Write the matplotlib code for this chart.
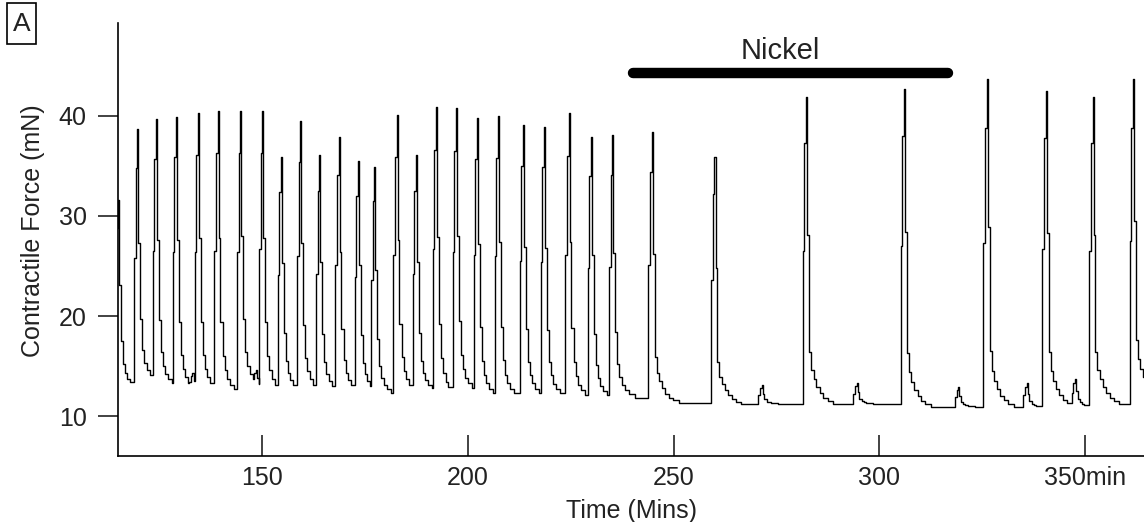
import numpy as np
import matplotlib
matplotlib.use('Agg')
import matplotlib.pyplot as plt
from matplotlib.patches import Rectangle

plt.rcParams['font.family'] = ['Liberation Sans', 'DejaVu Sans']

# contraction peaks (time in min, force in mN)
spike_times = [115.0, 119.7, 124.2, 129.1, 134.4, 139.2, 144.7, 150.1, 154.6, 159.3,
               163.9, 168.6, 173.3, 177.3, 182.7, 187.4, 192.3, 197.1, 202.2, 207.3,
               213.4, 218.5, 224.5, 229.9, 235.1, 244.7, 259.9, 282.2, 306.0, 326.1,
               340.4, 351.8, 361.6]
spike_peaks = [31.6, 38.7, 39.7, 39.9, 40.3, 40.5, 40.5, 40.5, 35.9, 39.5,
               36.1, 37.9, 35.5, 34.9, 40.1, 36.1, 40.9, 40.8, 39.8, 40.0,
               39.1, 38.9, 40.3, 37.9, 38.1, 38.4, 35.9, 41.9, 42.7, 43.7,
               42.5, 41.9, 43.7]
# resting level the trace settles to after each contraction
rest_levels = [12.8, 13.3, 12.9, 12.5, 12.5, 12.3, 12.8, 12.3, 12.4, 12.3,
               12.3, 12.3, 12.3, 12.0, 12.3, 12.4, 12.0, 12.4, 11.9, 11.9,
               11.9, 11.9, 11.7, 11.7, 11.8, 11.3, 11.2, 11.2, 10.9, 10.9,
               11.0, 11.2, 12.2]

# small twitches between contractions
bump_times = [133.1, 148.5, 271.4, 294.5, 319.2, 335.8, 347.5]
bump_peaks = [14.3, 14.6, 13.1, 13.3, 12.9, 13.3, 13.7]

# shape of one contraction read from typical peaks (min from peak, fraction of amplitude)
fast_offsets = [-0.8, -0.4, 0.0, 0.25, 0.65, 1.2, 1.7, 2.3, 3.0, 4.0, 5.5]
fast_fracs = [0.5, 0.85, 1.0, 0.55, 0.25, 0.13, 0.08, 0.05, 0.03, 0.015, 0.0]
# later contractions recover more slowly
slow_offsets = [-0.8, -0.4, 0.0, 0.3, 0.7, 1.2, 1.8, 2.5, 3.3, 4.2, 5.2, 6.5]
slow_fracs = [0.5, 0.85, 1.0, 0.55, 0.17, 0.11, 0.08, 0.055, 0.035, 0.02, 0.01, 0.0]
slow_from = 244.0

nickel_start = 240.2
nickel_end = 316.7

xticks = [150, 200, 250, 300, 350]
xtick_labels = ['150', '200', '250', '300', '350min']
yticks = [10, 20, 30, 40]


def build_trace():
  events = []
  for i, (t0, p) in enumerate(zip(spike_times, spike_peaks)):
    r0 = rest_levels[i - 1] if i > 0 else rest_levels[0]
    events.append((t0, p, r0, rest_levels[i], t0 >= slow_from))
  for t0, p in zip(bump_times, bump_peaks):
    k = np.searchsorted(spike_times, t0) - 1
    events.append((t0, p, rest_levels[k], rest_levels[k], False))
  events.sort()

  ts, vs = [], []
  for j, (t0, p, r0, r1, slow) in enumerate(events):
    offs, fracs = (slow_offsets, slow_fracs) if slow else (fast_offsets, fast_fracs)
    stop = events[j + 1][0] - 0.8 if j + 1 < len(events) else 370
    for off, fr in zip(offs, fracs):
      tt = t0 + off
      if tt >= stop:
        break
      base = r0 if off < 0 else r1
      ts.append(tt)
      vs.append(base + (p - base) * fr)
  return np.array(ts), np.array(vs)


t, v = build_trace()

fig = plt.figure(figsize=(11.44, 5.22), dpi=100)
ax = fig.add_axes([118 / 1144, 66 / 522, 1 - 118 / 1144, 433 / 522])
ax.plot(t, v, color='black', lw=1.0, drawstyle='steps-post')

ax.set_xlim(115.0, 364.3)
ax.set_ylim(6.0, 49.3)
for s in ['top', 'right']:
  ax.spines[s].set_visible(False)
for s in ['left', 'bottom']:
  ax.spines[s].set_linewidth(1.2)

ax.set_xticks(xticks)
ax.set_xticklabels(xtick_labels)
ax.set_yticks(yticks)
ax.tick_params(axis='x', direction='in', length=15, width=1.2, pad=7, labelsize=18, colors='#222222')
ax.tick_params(axis='y', direction='out', length=14.5, width=1.2, pad=8, labelsize=18, colors='#222222')

# treatment bar
ax.plot([nickel_start, nickel_end], [44.3, 44.3], color='black', lw=7.5, solid_capstyle='round')
ax.text(275.9, 46.5, 'Nickel', ha='center', va='center', fontsize=21, color='#222222')

fig.text(33 / 1144, 291 / 522, 'Contractile Force (mN)', rotation=90, ha='center', va='center',
         fontsize=18, color='#222222')
fig.text(631 / 1144, 11 / 522, 'Time (Mins)', ha='center', va='center', fontsize=18, color='#222222')

# panel letter in a box
fig.patches.append(Rectangle((7 / 1144, 478 / 522), 29 / 1144, 41 / 522, transform=fig.transFigure,
                             fill=False, ec='black', lw=1.2))
fig.text(21.5 / 1144, 498 / 522, 'A', ha='center', va='center', fontsize=19, color='#222222')

fig.savefig('out.png', dpi=100)
